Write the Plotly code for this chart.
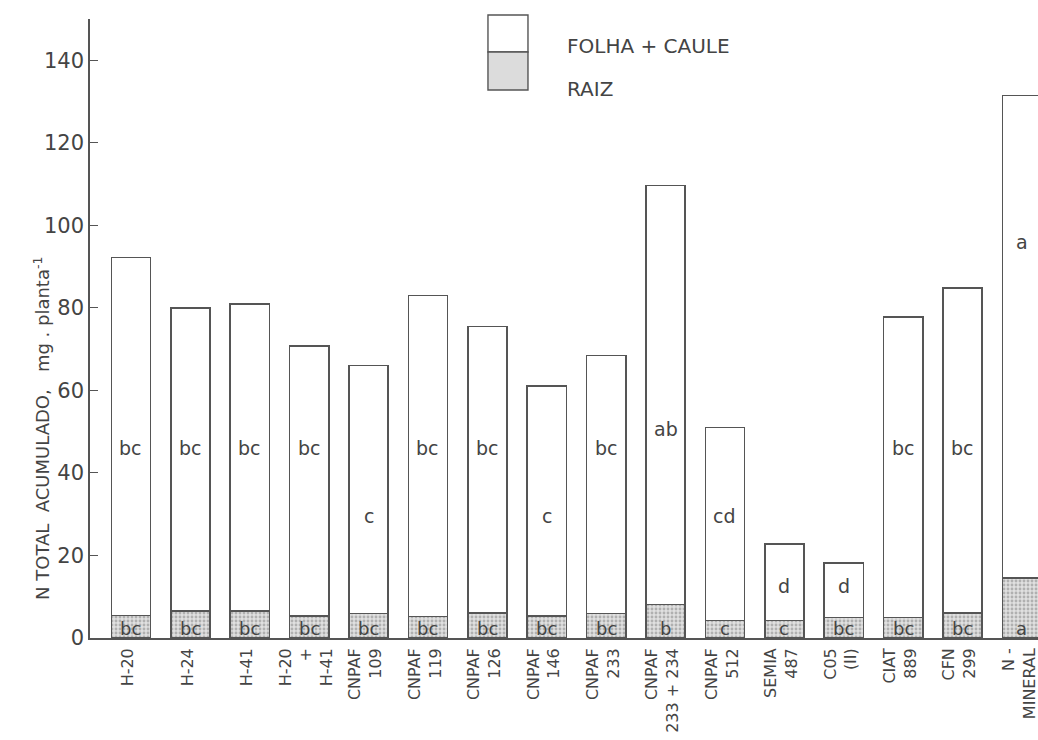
import plotly.graph_objects as go

# ---------------- data ----------------
categories = ["H-20", "H-24", "H-41", "H-20<br>+<br>H-41",
              "CNPAF<br>109", "CNPAF<br>119", "CNPAF<br>126", "CNPAF<br>146",
              "CNPAF<br>233", "CNPAF<br>233 + 234", "CNPAF<br>512", "SEMIA<br>487",
              "C05<br>(II)", "CIAT<br>889", "CFN<br>299", "N -<br>MINERAL"]
raiz = [5.5, 6.5, 6.5, 5.3, 5.9, 5.2, 6.0, 5.3, 5.9, 8.1, 4.2, 4.2, 5.0, 5.0, 6.1, 14.5]
folha_caule = [86.7, 73.5, 74.5, 65.4, 60.1, 77.8, 69.5, 55.7, 62.6, 101.6, 46.8, 18.6, 13.2, 72.8, 78.7, 117.0]
letras_folha = ["bc", "bc", "bc", "bc", "c", "bc", "bc", "c", "bc", "ab", "cd", "d", "d", "bc", "bc", "a"]
letras_raiz = ["bc", "bc", "bc", "bc", "bc", "bc", "bc", "bc", "bc", "b", "c", "c", "bc", "bc", "bc", "a"]
y_ticks = [0, 20, 40, 60, 80, 100, 120, 140]

# label heights (layout) for the shoot letters
letra_y = [46, 46, 46, 46, 29.6, 46, 46, 29.6, 46, 50.7, 29.6, 12.7, 12.7, 46, 46, 96]
letra_raiz_y = 2.4

INK = "#555555"
TXT = "#444444"
FONT = "DejaVu Sans"

fig = go.Figure()
fig.add_trace(go.Bar(
    x=categories, y=raiz, name="RAIZ", width=0.66,
    marker=dict(color="#e0e0e0",
                pattern=dict(shape=".", fgcolor="#808080", bgcolor="#e0e0e0", size=4, solidity=0.4),
                line=dict(color=INK, width=1.6)),
    showlegend=False, hoverinfo="x+y"))
fig.add_trace(go.Bar(
    x=categories, y=folha_caule, name="FOLHA + CAULE", width=0.66,
    marker=dict(color="white", line=dict(color=INK, width=1.6)),
    showlegend=False, hoverinfo="x+y"))

annotations = []
for c, l, ly in zip(categories, letras_folha, letra_y):
    annotations.append(dict(x=c, y=ly, xref="x", yref="y", text=l, showarrow=False,
                            font=dict(family=FONT, size=19, color=TXT)))
for c, l in zip(categories, letras_raiz):
    annotations.append(dict(x=c, y=letra_raiz_y, xref="x", yref="y", text=l, showarrow=False,
                            font=dict(family=FONT, size=18, color=TXT)))

# axis title
annotations.append(dict(x=-0.066, y=0.34, xref="paper", yref="paper",
                        text="N TOTAL  ACUMULADO,   mg . planta<sup>-1</sup>",
                        textangle=-90, showarrow=False,
                        font=dict(family=FONT, size=18, color=TXT)))
# legend text
annotations.append(dict(x=0.501, y=0.979, xref="paper", yref="paper", text="FOLHA + CAULE",
                        xanchor="left", showarrow=False, font=dict(family=FONT, size=20, color=TXT)))
annotations.append(dict(x=0.501, y=0.9095, xref="paper", yref="paper", text="RAIZ",
                        xanchor="left", showarrow=False, font=dict(family=FONT, size=20, color=TXT)))

shapes = [
    dict(type="rect", xref="paper", yref="paper", x0=0.4198, x1=0.462, y0=0.9467, y1=1.0065,
         fillcolor="white", line=dict(color=INK, width=1.4)),
    dict(type="rect", xref="paper", yref="paper", x0=0.4198, x1=0.462, y0=0.8852, y1=0.9467,
         fillcolor="#dcdcdc", line=dict(color=INK, width=1.4)),
]

fig.update_layout(
    width=1038, height=740,
    barmode="stack", bargap=0.34,
    paper_bgcolor="white", plot_bgcolor="white",
    margin=dict(l=90, r=0, t=19, b=102, autoexpand=False),
    font=dict(family=FONT, color=TXT),
    annotations=annotations, shapes=shapes,
    xaxis=dict(type="category", range=[-0.69, 15.27], showline=True, linecolor=INK, linewidth=1.6,
               ticks="", tickangle=-90, showgrid=False, zeroline=False, automargin=False,
               ticklabelshift=-3, ticklabelstandoff=2, ticklabeloverflow="allow",
               tickfont=dict(family=FONT, size=16, color=TXT)),
    yaxis=dict(range=[0, 150], tickvals=y_ticks, showline=True, linecolor=INK, linewidth=1.6,
               ticks="inside", ticklen=8, tickcolor=INK, showgrid=False, zeroline=False,
               automargin=False, tickfont=dict(family=FONT, size=21, color=TXT)),
)

# remove the default page margin so the figure fills the 1038x740 window exactly
fig.write_html("out.html",
               config={"displayModeBar": False},
               post_script="document.body.style.margin='0px';"
                           "document.body.style.overflow='hidden';")
